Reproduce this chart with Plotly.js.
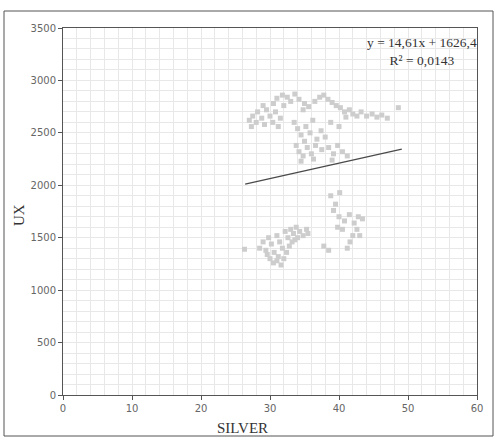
<!DOCTYPE html>
<html>
<head>
<meta charset="utf-8">
<script src="https://cdn.plot.ly/plotly-3.0.1.min.js"></script>
<style>html,body{margin:0;padding:0;background:#fff}#chart{width:497px;height:439px}</style>
</head>
<body>
<div id="chart"></div>
<script>
// Scatter data: SILVER (x) vs UX (y)
const silver = [
  27.0,27.5,28.0,28.2,28.8,29.2,29.5,30.0,30.4,30.8,31.2,27.3,29.0,31.5,
  30.5,31.0,31.8,32.5,33.0,33.6,34.2,35.0,35.6,36.5,37.2,37.8,38.4,39.0,39.6,32.0,34.8,
  40.2,40.8,41.5,42.0,42.6,43.2,44.0,44.8,45.5,46.2,47.0,48.6,41.0,
  33.5,34.0,34.5,35.2,35.8,36.2,36.8,37.4,38.0,33.8,34.2,34.8,35.4,36.0,36.6,35.0,36.3,34.5,38.5,39.2,39.8,40.5,41.2,39.0,37.5,40.0,38.8,
  38.8,40.1,39.5,39.2,40.0,40.8,41.5,42.2,42.8,43.4,42.6,42.0,41.6,41.2,40.5,39.8,43.0,37.8,38.5,
  28.5,29.0,29.4,29.8,30.2,30.6,31.0,31.4,31.8,32.2,32.6,33.0,33.4,33.8,34.3,34.8,35.3,30.0,30.5,31.2,31.6,32.0,32.4,32.8,33.2,31.0,29.6,33.6,34.0,35.5,26.3
];
const ux = [
  2620,2660,2600,2700,2640,2580,2720,2660,2600,2700,2560,2560,2760,2640,
  2780,2830,2860,2840,2800,2870,2820,2780,2750,2800,2840,2860,2820,2790,2760,2760,2720,
  2740,2700,2720,2680,2660,2700,2660,2680,2650,2670,2640,2740,2650,
  2600,2540,2480,2560,2500,2620,2440,2520,2460,2380,2320,2280,2360,2300,2380,2420,2250,2230,2360,2300,2380,2320,2280,2240,2340,2560,2600,
  1900,1930,1820,1760,1700,1660,1720,1640,1700,1680,1580,1520,1460,1400,1580,1600,1520,1420,1380,
  1400,1460,1380,1500,1440,1360,1520,1460,1400,1560,1500,1580,1540,1600,1560,1520,1580,1300,1260,1320,1240,1300,1360,1420,1460,1280,1340,1480,1500,1540,1390
];
// Linear trend line: y = 14.61x + 1626.4
const trendSlope = 14.61;
const trendIntercept = 1626.4;
const trendXRange = [26.4, 49.1];
const xTicks = [0,10,20,30,40,50,60];
const yTicks = [0,500,1000,1500,2000,2500,3000,3500];
const equationText = "y = 14,61x + 1626,4<br>R² = 0,0143";

const trendY = trendXRange.map(x => trendSlope * x + trendIntercept);

const L = 63, R = 477, T = 28, B = 395, W = 497, H = 439;
const pw = R - L, ph = B - T;
const px = v => (v - L) / pw;
const py = v => (B - v) / ph;

const gridColor = "#e8e8e8";
const data = [
  {x: silver, y: ux, type: "scatter", mode: "markers",
   marker: {color: "#cdcdcd", size: 5, symbol: "square", line: {width: 0}},
   hoverinfo: "x+y"},
  {x: trendXRange, y: trendY, type: "scatter", mode: "lines",
   line: {color: "#4a4a4a", width: 1.3}, hoverinfo: "skip"}
];

const layout = {
  width: W, height: H,
  margin: {l: L, r: W - R, t: T, b: H - B, pad: 0},
  paper_bgcolor: "#ffffff", plot_bgcolor: "#ffffff",
  showlegend: false,
  font: {family: "DejaVu Sans, sans-serif", size: 10, color: "#555"},
  xaxis: {
    range: [0, 60], tickvals: xTicks, ticktext: xTicks.map(String),
    showline: true, linecolor: "#555", linewidth: 1, mirror: true,
    ticks: "outside", ticklen: 4, tickcolor: "#555",
    showgrid: true, gridcolor: gridColor, gridwidth: 1,
    minor: {dtick: 2, showgrid: true, gridcolor: gridColor, gridwidth: 1, ticks: ""},
    zeroline: false, tickfont: {size: 10, color: "#666"}, fixedrange: true
  },
  yaxis: {
    range: [0, 3500], tickvals: yTicks, ticktext: yTicks.map(String),
    showline: true, linecolor: "#555", linewidth: 1, mirror: true,
    ticks: "outside", ticklen: 4, tickcolor: "#555",
    showgrid: true, gridcolor: gridColor, gridwidth: 1,
    minor: {dtick: 100, showgrid: true, gridcolor: gridColor, gridwidth: 1, ticks: ""},
    zeroline: false, tickfont: {size: 10, color: "#666"}, fixedrange: true
  },
  shapes: [
    {type: "rect", xref: "paper", yref: "paper",
     x0: px(4), x1: px(493), y0: py(436), y1: py(11),
     line: {color: "#555", width: 1}, fillcolor: "rgba(0,0,0,0)", layer: "below"}
  ],
  annotations: [
    {text: equationText, xref: "paper", yref: "paper", x: px(479), y: py(33),
     xanchor: "right", yanchor: "top", align: "center", showarrow: false,
     font: {family: "Liberation Serif, serif", size: 13.5, color: "#333"}},
    {text: "SILVER", xref: "paper", yref: "paper", x: px(242), y: py(428),
     xanchor: "center", yanchor: "middle", showarrow: false,
     font: {family: "Liberation Serif, serif", size: 15, color: "#333"}},
    {text: "UX", xref: "paper", yref: "paper", x: px(19), y: py(215),
     xanchor: "center", yanchor: "middle", textangle: -90, showarrow: false,
     font: {family: "Liberation Serif, serif", size: 15, color: "#333"}}
  ]
};

Plotly.newPlot("chart", data, layout, {displayModeBar: false, staticPlot: true});
</script>
</body>
</html>
